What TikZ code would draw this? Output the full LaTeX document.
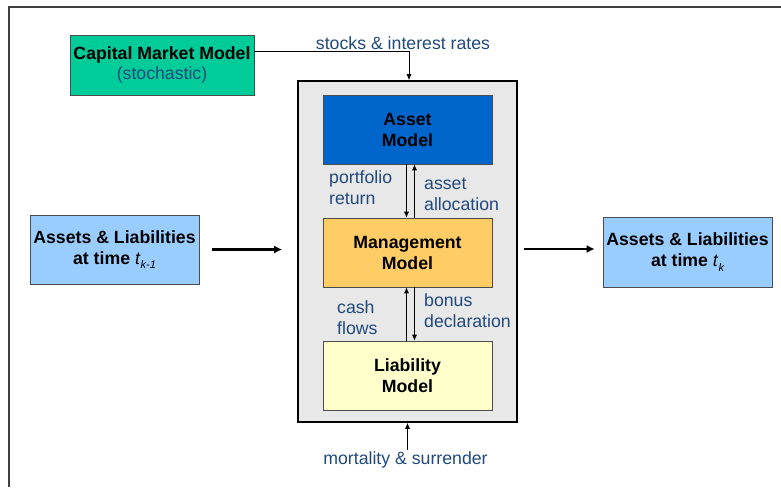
\documentclass[tikz,border=0pt]{standalone}
\usepackage{fontspec}
\setmainfont{Liberation Sans}
\usetikzlibrary{arrows.meta,calc}
\definecolor{capgreen}{RGB}{0,204,153}
\definecolor{assetblue}{RGB}{0,102,204}
\definecolor{mgmtorange}{RGB}{255,204,102}
\definecolor{liabyellow}{RGB}{255,255,204}
\definecolor{albox}{RGB}{153,204,255}
\definecolor{lbl}{RGB}{31,73,125}
\definecolor{panel}{RGB}{232,232,232}
\newcommand{\tsub}[1]{\textit{\mdseries t}\raisebox{-0.45ex}{\fontsize{11}{11}\selectfont\itshape\mdseries #1}}
\begin{document}
\begin{tikzpicture}[x=1pt,y=-1pt,
  every node/.style={font=\fontsize{17.7}{21}\selectfont},
  modelbox/.style={draw=black!70, line width=0.6pt, align=center, font=\fontsize{17.7}{21}\selectfont\bfseries, minimum width=169pt, minimum height=69pt, inner sep=0pt},
  lbltext/.style={text=lbl, align=left, inner sep=0pt},
  thinarrow/.style={line width=0.8pt, -{Latex[length=6pt,width=5pt]}},
  bigarrow/.style={line width=2.4pt, -{Latex[length=8pt,width=8pt]}},
  framestyle/.style={draw=black!75, line width=1.5pt}]
\useasboundingbox (0,0) rectangle (781,487);
% outer frame (cropped)
\coordinate (ftl) at (9,7);
\coordinate (fbl) at (9,487);
\coordinate (ftr) at (781,7);
\draw[framestyle] (fbl) -- (ftl) -- (ftr);
% nodes
\node[modelbox, fill=capgreen, minimum width=184pt, minimum height=60pt] (cap) at (162,65) {Capital Market Model\\[-1pt]{\mdseries\color{lbl}(stochastic)}};
\node[draw=black, line width=1.6pt, fill=panel, minimum width=219pt, minimum height=341pt, inner sep=0pt] (panelbox) at (407.5,251.5) {};
\node[modelbox, fill=assetblue] (asset) at (407.5,129.5) {Asset\\Model};
\node[modelbox, fill=mgmtorange] (mgmt) at (407.5,252.5) {Management\\Model};
\node[modelbox, fill=liabyellow] (liab) at (407.5,375.5) {Liability\\Model};
\node[modelbox, fill=albox] (left) at (114.5,249.5) {Assets \& Liabilities\\at time \tsub{k-1}};
\node[modelbox, fill=albox, minimum height=70pt] (right) at (687.5,252) {Assets \& Liabilities\\at time \tsub{k}};
% labels
\node[lbltext] (lstocks) at (403,43) {stocks \& interest rates};
\node[lbltext] (lmort) at (405.5,460) {mortality \& surrender};
\node[lbltext, anchor=west] (lport) at (329,188) {portfolio\\return};
\node[lbltext, anchor=west] (lalloc) at (424,194) {asset\\allocation};
\node[lbltext, anchor=west] (lcash) at (337,317.5) {cash\\flows};
\node[lbltext, anchor=west] (lbonus) at (424,310.5) {bonus\\declaration};
% connectors
\coordinate (capout) at ($(cap.north east)!0.28!(cap.south east)$);
\draw[thinarrow] (capout) -| ([xshift=1.5pt]panelbox.north);
\coordinate (mortin) at (407.5,450);
\draw[thinarrow] (mortin) -- (panelbox.south);
\draw[thinarrow] ([xshift=-1pt]asset.south) -- ([xshift=-1pt]mgmt.north);
\draw[thinarrow] ([xshift=7pt]mgmt.north) -- ([xshift=7pt]asset.south);
\draw[thinarrow] ([xshift=-1pt]liab.north) -- ([xshift=-1pt]mgmt.south);
\draw[thinarrow] ([xshift=7pt]mgmt.south) -- ([xshift=7pt]liab.north);
\draw[bigarrow] ([xshift=13pt]left.east) -- ([xshift=-15pt]panelbox.west |- left.east);
\draw[bigarrow] ([xshift=6pt,yshift=3pt]panelbox.east |- right.west) -- ([xshift=-8pt,yshift=3pt]right.west);
\end{tikzpicture}
\end{document}
